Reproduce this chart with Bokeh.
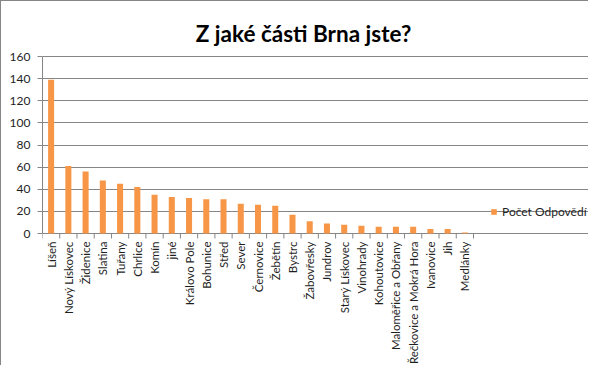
import math
from bokeh.plotting import figure
from bokeh.models import (Range1d, FixedTicker, ColumnDataSource, Label)
from bokeh.core.properties import value
from bokeh.embed import file_html
from bokeh.resources import INLINE

title_text = "Z jaké části Brna jste?"
series_name = "Počet Odpovědí"
categories = ["Líšeň", "Nový Lískovec", "Židenice", "Slatina", "Tuřany", "Chrlice",
              "Komín", "jiné", "Královo Pole", "Bohunice", "Střed", "Sever",
              "Černovice", "Žebětín", "Bystrc", "Žabovřesky", "Jundrov",
              "Starý Lískovec", "Vinohrady", "Kohoutovice", "Maloměřice a Obřany",
              "Řečkovice a Mokrá Hora", "Ivanovice", "Jih", "Medlánky"]
values = [139, 61, 56, 48, 45, 42, 35, 33, 32, 31, 31, 27, 26, 25, 17, 11, 9, 8, 7,
          6, 6, 6, 4, 4, 1]
y_ticks = [0, 20, 40, 60, 80, 100, 120, 140, 160]

FONT = "Lato"
GRID = "#868686"
ORANGE = "#F79646"
TXT = "#1f1f1f"

# layout (canvas pixels)
W, H = 588, 365
PL, PR, PT, PB = 41, 472, 55, 232   # plot area of the bars

n = len(categories)
y_max_val = y_ticks[-1]
pxy = (PB - PT) / y_max_val
pxx = (PR - PL) / n
y_lo = -(H - PB) / pxy
y_hi = y_max_val + PT / pxy
x_hi = n + (W - PR) / pxx

xs = [i + 0.5 for i in range(n)]
bounds = list(range(n + 1))
zeros_b = [0] * len(bounds)
zeros_c = [0] * n

src = ColumnDataSource(dict(x=xs, top=values, cat=categories, base=zeros_c))

p = figure(width=W, height=H, output_backend="svg", toolbar_location=None,
           title=None, x_axis_location=None,
           x_range=Range1d(0, x_hi), y_range=Range1d(y_lo, y_hi),
           min_border_left=PL, min_border_right=0,
           min_border_top=0, min_border_bottom=0)
p.styles = {"border-left": "1px solid #868686", "border-top": "1px solid #868686"}
p.outline_line_color = None
p.background_fill_color = "white"
p.border_fill_color = "white"

p.vbar(x="x", top="top", width=0.35, source=src, fill_color=ORANGE,
       line_color=None, legend_label=series_name)

# y axis
p.yaxis.ticker = FixedTicker(ticks=y_ticks)
p.yaxis.bounds = (0, y_max_val)
p.yaxis.axis_line_color = GRID
p.yaxis.major_tick_line_color = GRID
p.yaxis.major_tick_out = 5
p.yaxis.major_tick_in = 0
p.yaxis.minor_tick_line_color = None
p.yaxis.major_label_standoff = 7
p.yaxis.major_label_text_font = FONT
p.yaxis.major_label_text_font_size = "12px"
p.yaxis.major_label_text_color = TXT

p.xgrid.grid_line_color = None
p.ygrid.grid_line_color = GRID
p.ygrid.ticker = FixedTicker(ticks=y_ticks)
p.ygrid.bounds = (0, n)

# category ticks (between categories) and labels
p.ray(x=bounds, y=zeros_b, length=5, length_units="screen", angle=-math.pi / 2,
      line_color=GRID, line_width=1)
p.text(x="x", y="base", text="cat", source=src, angle=math.pi / 2,
       y_offset=8, text_align="right", text_baseline="middle",
       text_font=value(FONT), text_font_size="11.5px", text_color=TXT)

title = Label(x=261, y=H - 32, x_units="screen", y_units="screen", text=title_text,
              text_align="center", text_baseline="alphabetic", text_font=FONT,
              text_font_style="bold", text_font_size="22.5px", text_color="#000000")
p.add_layout(title)

lg = p.legend[0]
lg.location = (448, H - 211 - 7)
lg.padding = 0
lg.margin = 0
lg.spacing = 0
lg.glyph_width = 7
lg.glyph_height = 7
lg.label_height = 14
lg.label_standoff = 5
lg.label_text_font = FONT
lg.label_text_font_size = "12px"
lg.label_text_color = TXT
lg.border_line_color = None
lg.background_fill_alpha = 0

open("out.html", "w").write(file_html(p, INLINE))
